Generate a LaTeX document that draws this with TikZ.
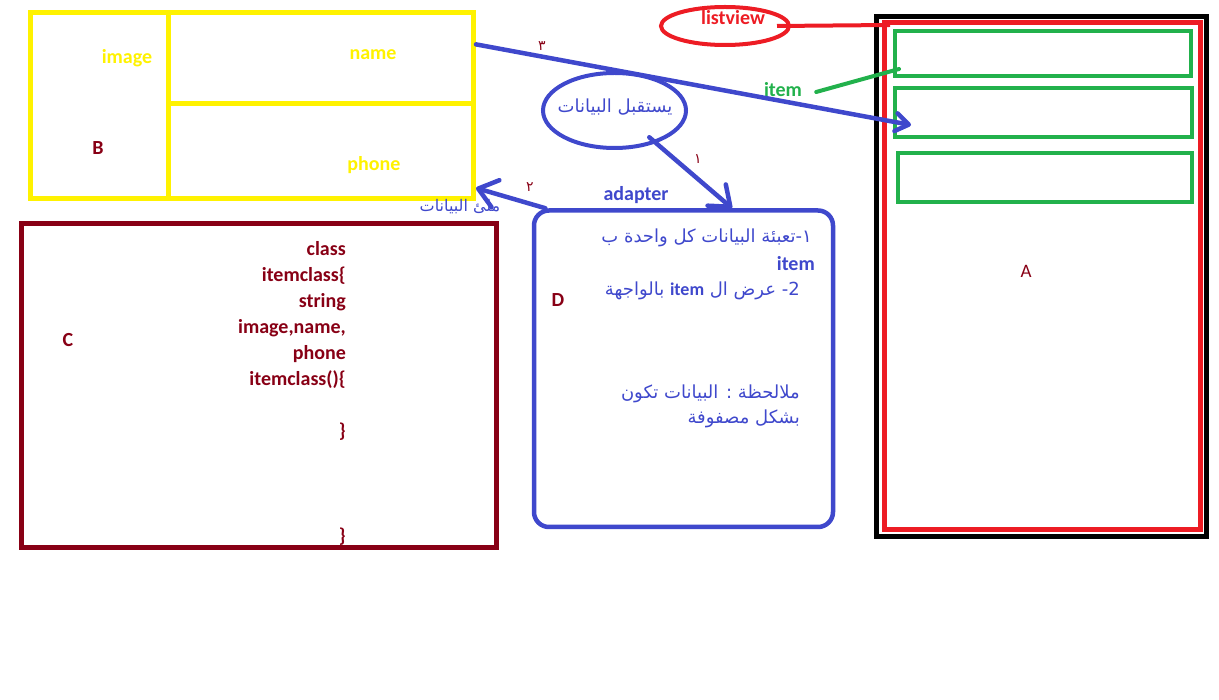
\documentclass[tikz,border=0pt]{standalone}
\usepackage{fontspec}
\setmainfont{Carlito}
\newfontfamily\arabicfont[Script=Arabic]{DejaVu Sans}
\TeXXeTstate=1
\usetikzlibrary{arrows.meta,calc,shapes.geometric}
\definecolor{ylw}{RGB}{255,242,0}
\definecolor{brn}{RGB}{136,0,21}
\definecolor{blu}{RGB}{63,72,204}
\definecolor{rd}{RGB}{237,28,36}
\definecolor{grn}{RGB}{34,177,76}

\begin{document}
\begin{tikzpicture}[x=1pt,y=-1pt,
  every node/.append style={inner sep=0pt},
  lbl/.style={font=\bfseries\fontsize{20}{24}\selectfont},
  ar/.style={font=\arabicfont\fontsize{18}{22}\selectfont,text=blu},
  num/.style={font=\arabicfont\fontsize{14}{16}\selectfont,text=brn},
  frame/.style={draw=#1,rectangle,line width=5pt},
  ell/.style={draw=#1,ellipse,line width=4pt},
  barrow/.style={draw=blu,line width=4.5pt,line cap=round,-{Straight Barb[length=18pt,width=28pt,round]}}]
\useasboundingbox (0,0) rectangle (1219,700);
% B
\node[frame=ylw,minimum width=443,minimum height=186] (B) at (252,105.5) {};
\draw[ylw,line width=5pt] (168.5,12.5) -- (168.5,198.5);
\draw[ylw,line width=5pt] (168.5,104) -- (473.5,104);
\node[lbl,text=ylw] (img) at (127,58) {image};
\node[lbl,text=ylw] (nm) at (373,55) {name};
\node[lbl,text=ylw] (ph) at (374,165) {phone};
\node[lbl,text=brn] (bl) at (98,148) {B};
% C
\node[frame=brn,minimum width=475,minimum height=324] (C) at (259,385.5) {};
\node[lbl,text=brn] (cl) at (68,340) {C};
\node[lbl,text=brn,align=right,anchor=north east,font=\bfseries\fontsize{20}{26.1}\selectfont] (code) at (346,241)
  {class\\itemclass\{\\string\\image,name,\\phone\\itemclass()\{\\\mbox{}\\\}\\\mbox{}\\\mbox{}\\\mbox{}\\\}};
% D
\node[frame=blu,line width=4.5pt,rounded corners=15pt,minimum width=299,minimum height=316.5] (D) at (683.5,368.75) {};
\node[lbl,text=brn] (dl) at (558,300) {D};
\node[lbl,text=blu] (ad) at (636,195) {adapter};
\node[ar,anchor=east] (d1) at (812,238) {\beginR ١-تعبئة البيانات كل واحدة ب\endR};
\node[lbl,text=blu,anchor=east] (d2) at (815,264) {item};
\node[ar,anchor=east] (d3) at (800,291) {\beginR\beginL 2-\endL{} عرض ال \beginL{\rmfamily\bfseries item}\endL{} بالواجهة\endR};
\node[ar,anchor=east] (d4) at (800,394) {\beginR ملالحظة : البيانات تكون\endR};
\node[ar,anchor=east] (d5) at (800,419) {\beginR بشكل مصفوفة\endR};
% ellipse
\node[ell=blu,minimum width=143,minimum height=75] (E) at (614.5,110.5) {};
\node[ar] (et) at (615,107) {\beginR يستقبل البيانات\endR};
\node[ar,font=\arabicfont\fontsize{16}{20}\selectfont] (fill) at (460,207) {\beginR ملئ البيانات\endR};
% A
\node[frame=black,minimum width=330,minimum height=520] (A) at (1041.5,276.5) {};
\node[frame=rd,minimum width=316,minimum height=507] (RA) at (1042.5,276) {};
\node[frame=grn,line width=4pt,minimum width=296.5,minimum height=45] (G1) at (1042.75,53.5) {};
\node[frame=grn,line width=4pt,minimum width=297.5,minimum height=49] (G2) at (1043.25,112.5) {};
\node[frame=grn,line width=4pt,minimum width=294.5,minimum height=49.5] (G3) at (1044.75,177.75) {};
\node[font=\fontsize{19}{22}\selectfont,text=brn] (al) at (1026,271) {A};
% listview
\node[ell=rd,minimum width=128,minimum height=38] (L) at (725,26) {};
\node[lbl,text=rd] (lt) at (733,18) {listview};
\draw[rd,line width=4pt] ([xshift=-14pt]L.east) -- ([xshift=8pt,yshift=-5pt]RA.north west);
\node[lbl,text=grn] (it) at (783,90) {item};
\draw[grn,line width=4pt,line cap=round] ([xshift=14pt,yshift=-2pt]it.east) -- ([xshift=6.5pt,yshift=9pt]G1.south west);
% arrows
\coordinate (t3) at (911,125);
\draw[barrow,-{Straight Barb[length=13pt,width=18pt,round]}] ($(B.north east)!0.18!(B.south east)$) -- (t3);
\draw[barrow] ([yshift=8pt]E.-45) -- ($(D.north west)!0.66!(D.north east)$);
\draw[barrow] ($(D.north west)!0.045!(D.north east)$) -- ([yshift=13pt]B.south east);
\node[num] (n3) at (542,46) {٣};
\node[num] (n1) at (698,159) {١};
\node[num] (n2) at (530,187) {٢};
\end{tikzpicture}
\end{document}
